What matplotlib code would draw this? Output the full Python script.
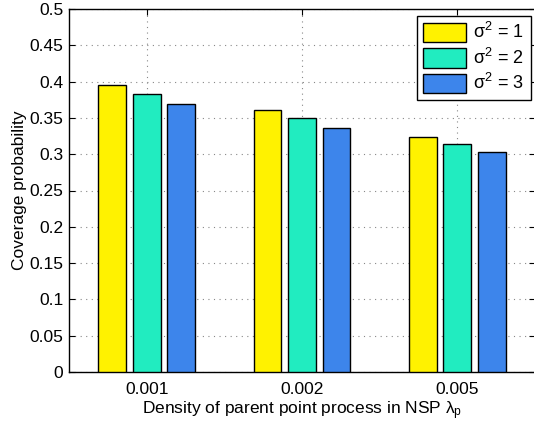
import numpy as np
from matplotlib import pyplot as plt

plt.rcParams['font.family'] = ['Liberation Sans', 'DejaVu Sans']
plt.rcParams['mathtext.fontset'] = 'custom'
plt.rcParams['mathtext.rm'] = 'Liberation Sans'
plt.rcParams['mathtext.it'] = 'Liberation Sans'
plt.rcParams['font.size'] = 12.5

densities = ['0.001', '0.002', '0.005']
sigma_labels = [r'$\sigma^2$ = 1', r'$\sigma^2$ = 2', r'$\sigma^2$ = 3']
cov_s1 = [0.395, 0.361, 0.324]
cov_s2 = [0.383, 0.350, 0.314]
cov_s3 = [0.369, 0.336, 0.303]

colours = ["#FFF200", "#21ECC0", "#3D85EB"]

fig = plt.figure(figsize=(5.34, 4.24), dpi=100)
ax = fig.add_axes([69/534, 1 - 372/424, 466/534, 363/424])

x = np.arange(1, len(densities) + 1)
for i, (vals, lab) in enumerate(zip([cov_s1, cov_s2, cov_s3], sigma_labels)):
    ax.bar(x + (i - 1) * 0.222, vals, width=0.18, color=colours[i],
           edgecolor='black', lw=1.0, label=lab, zorder=3)

ax.set_xlim(0.5, 3.5)
ax.set_ylim(0, 0.5)
ax.set_xticks(x)
ax.set_xticklabels(densities)
ax.set_yticks(np.arange(0, 0.501, 0.05))
ax.set_yticklabels(['0', '0.05', '0.1', '0.15', '0.2', '0.25', '0.3',
                    '0.35', '0.4', '0.45', '0.5'])
ax.grid(True, linestyle=(0, (1, 4)), color='#888888', lw=0.8, zorder=0)
ax.tick_params(direction='in', top=True, right=True, length=4, width=0.8,
               pad=4)
ax.tick_params(axis='x', pad=7)
for s in ax.spines.values():
    s.set_linewidth(1.0)

ax.set_xlabel(r'Density of parent point process in NSP $\lambda_p$', labelpad=2)
ax.set_ylabel('Coverage probability', labelpad=2)

leg = ax.legend(loc='upper right', bbox_to_anchor=(462/466, 1 - 7/363),
                fancybox=False, framealpha=1, edgecolor='black',
                handlelength=2.4, handleheight=1.3, handletextpad=0.4,
                borderpad=0.35, labelspacing=0.3, borderaxespad=0,
                fontsize=13)
leg.get_frame().set_linewidth(1.0)

plt.savefig('out.png', dpi=100)
